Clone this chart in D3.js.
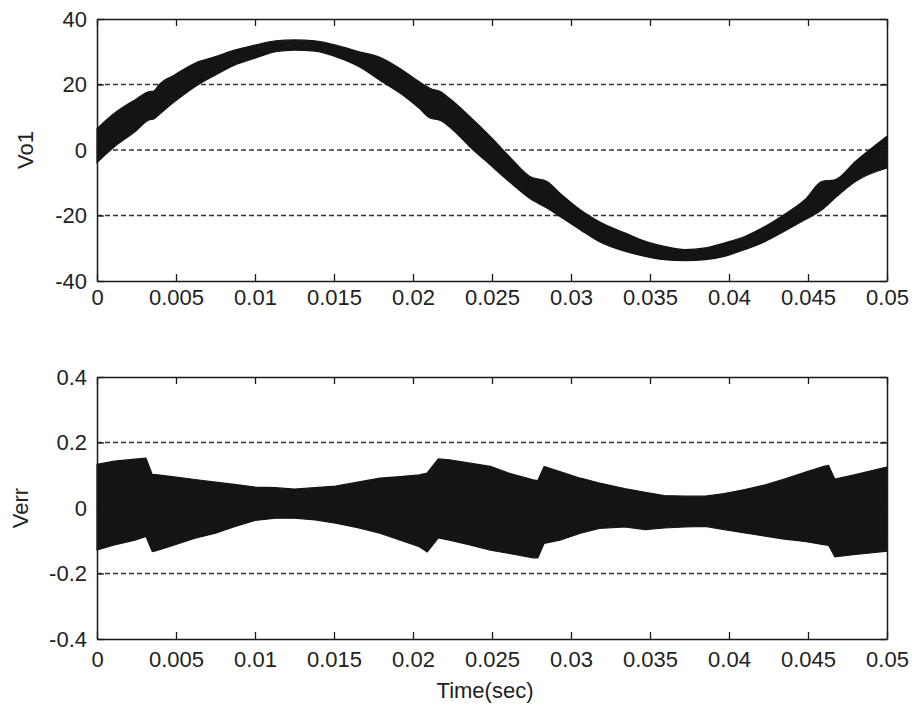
<!DOCTYPE html>
<html>
<head>
<meta charset="utf-8">
<script src="https://cdn.jsdelivr.net/npm/d3@7/dist/d3.min.js"></script>
<style>
  html, body { margin: 0; padding: 0; background: #ffffff; }
  svg { display: block; }
  text { font-family: "Liberation Sans", Arial, sans-serif; fill: #222; }
</style>
</head>
<body>
<script>
// ---------- data ----------
// Top panel: Vo1 switching band, upper and lower envelope
const vo1Time  = [0, 0.0011, 0.0024, 0.0033, 0.0036, 0.0039, 0.0049, 0.0062, 0.0075, 0.0087,
                  0.0100, 0.0113, 0.0125, 0.0138, 0.0151, 0.0166, 0.0179, 0.0192, 0.0204, 0.0211,
                  0.0217, 0.0223, 0.0236, 0.0249, 0.0261, 0.0274, 0.0285, 0.0293, 0.0306, 0.0318,
                  0.0334, 0.0347, 0.0359, 0.0372, 0.0385, 0.0397, 0.0410, 0.0423, 0.0435, 0.0448,
                  0.0459, 0.0467, 0.0480, 0.0500];
const vo1Upper = [6.5, 11.2, 15.3, 17.8, 18.0, 19.8, 22.9, 26.5, 28.5, 30.5,
                  32.0, 33.3, 33.6, 33.3, 32.0, 30.0, 28.3, 24.8, 20.8, 18.8,
                  17.9, 15.8, 10.2, 4.1, -2.0, -8.1, -9.7, -13.2, -18.3, -21.9,
                  -25.3, -27.9, -29.4, -30.4, -29.9, -28.4, -26.4, -23.3, -19.7, -15.2,
                  -9.6, -9.1, -3.5, 4.2];
const vo1Lower = [-3.8, 1.0, 5.6, 9.2, 9.5, 10.7, 14.7, 19.3, 22.9, 25.9,
                  28.0, 30.0, 30.5, 30.2, 28.5, 25.4, 21.3, 17.3, 12.7, 9.7,
                  9.1, 7.1, 1.0, -4.6, -9.7, -14.8, -17.8, -20.3, -24.4, -28.0,
                  -30.9, -32.5, -33.5, -33.8, -33.5, -32.5, -30.4, -27.9, -24.8, -21.3,
                  -18.2, -14.7, -9.6, -5.5];

// Bottom panel: Verr band, upper and lower envelope
const errTime  = [0, 0.0011, 0.0024, 0.0031, 0.0035, 0.0037, 0.0049, 0.0062, 0.0075, 0.0087,
                  0.0100, 0.0113, 0.0125, 0.0138, 0.0151, 0.0165, 0.0179, 0.0192, 0.0204, 0.0209,
                  0.0216, 0.0223, 0.0236, 0.0249, 0.0261, 0.0276, 0.0279, 0.0283, 0.0293, 0.0306,
                  0.0318, 0.0334, 0.0347, 0.0359, 0.0372, 0.0385, 0.0397, 0.0410, 0.0423, 0.0435,
                  0.0448, 0.0460, 0.0463, 0.0467, 0.0480, 0.0500];
const errUpper = [0.133, 0.143, 0.149, 0.152, 0.102, 0.102, 0.095, 0.087, 0.079, 0.072,
                  0.064, 0.062, 0.058, 0.062, 0.067, 0.079, 0.091, 0.096, 0.101, 0.107,
                  0.150, 0.147, 0.137, 0.127, 0.106, 0.086, 0.084, 0.127, 0.111, 0.091,
                  0.076, 0.059, 0.048, 0.038, 0.036, 0.036, 0.044, 0.056, 0.071, 0.088,
                  0.109, 0.127, 0.130, 0.088, 0.102, 0.125];
const errLower = [-0.128, -0.113, -0.098, -0.087, -0.133, -0.131, -0.113, -0.092, -0.077, -0.057,
                  -0.038, -0.031, -0.031, -0.036, -0.046, -0.060, -0.077, -0.098, -0.118, -0.134,
                  -0.091, -0.098, -0.113, -0.129, -0.139, -0.152, -0.152, -0.108, -0.098, -0.077,
                  -0.062, -0.058, -0.066, -0.061, -0.058, -0.056, -0.066, -0.076, -0.086, -0.095,
                  -0.102, -0.112, -0.114, -0.149, -0.142, -0.132];

// Tick values and labels
const xTicks      = [0, 0.005, 0.01, 0.015, 0.02, 0.025, 0.03, 0.035, 0.04, 0.045, 0.05];
const xTickLabels = ["0", "0.005", "0.01", "0.015", "0.02", "0.025", "0.03", "0.035", "0.04", "0.045", "0.05"];
const vo1Ticks      = [-40, -20, 0, 20, 40];
const vo1TickLabels = ["-40", "-20", "0", "20", "40"];
const vo1Grid       = [-20, 0, 20];
const errTicks      = [-0.4, -0.2, 0, 0.2, 0.4];
const errTickLabels = ["-0.4", "-0.2", "0", "0.2", "0.4"];
const errGrid       = [-0.2, 0, 0.2];
const xTitle = "Time(sec)";

// ---------- drawing ----------
const W = 912, H = 710;
const svg = d3.select("body").append("svg").attr("width", W).attr("height", H);

function panel(cfg) {
  const x = d3.scaleLinear().domain([0, 0.05]).range([cfg.left, cfg.right]);
  const y = d3.scaleLinear().domain(cfg.domain).range([cfg.bottom, cfg.top]);
  const g = svg.append("g");

  // horizontal dashed grid
  g.selectAll("line.grid").data(cfg.grid).join("line")
    .attr("class", "grid")
    .attr("x1", cfg.left).attr("x2", cfg.right)
    .attr("y1", d => y(d)).attr("y2", d => y(d))
    .attr("stroke", "#333").attr("stroke-width", 1.4)
    .attr("stroke-dasharray", "5,3");

  // band
  const rows = cfg.t.map((t, i) => ({ t, hi: cfg.hi[i], lo: cfg.lo[i] }));
  g.append("path").datum(rows)
    .attr("d", d3.area().curve(cfg.curve).x(d => x(d.t)).y0(d => y(d.lo)).y1(d => y(d.hi)))
    .attr("fill", "#141414").attr("stroke", "#141414").attr("stroke-width", 1.2);

  const fmt = (vals, labels) => (d => labels[vals.indexOf(d)]);

  // axes (ticks inward)
  const axB = g.append("g").attr("transform", `translate(0,${cfg.bottom})`)
    .call(d3.axisBottom(x).tickValues(xTicks).tickFormat(fmt(xTicks, xTickLabels))
      .tickSizeInner(-7).tickSizeOuter(0).tickPadding(cfg.xPad));
  const axT = g.append("g").attr("transform", `translate(0,${cfg.top})`)
    .call(d3.axisTop(x).tickValues(xTicks).tickFormat("")
      .tickSizeInner(-7).tickSizeOuter(0));
  const axL = g.append("g").attr("transform", `translate(${cfg.left},0)`)
    .call(d3.axisLeft(y).tickValues(cfg.ticks).tickFormat(fmt(cfg.ticks, cfg.labels))
      .tickSizeInner(-7).tickSizeOuter(0).tickPadding(10));
  const axR = g.append("g").attr("transform", `translate(${cfg.right},0)`)
    .call(d3.axisRight(y).tickValues(cfg.ticks).tickFormat("")
      .tickSizeInner(-7).tickSizeOuter(0));

  [axB, axT, axL, axR].forEach(a => {
    a.selectAll("path.domain").attr("stroke", "#1a1a1a").attr("stroke-width", 1.5);
    a.selectAll(".tick line").attr("stroke", "#1a1a1a").attr("stroke-width", 1.3);
    a.selectAll(".tick text").attr("font-size", 22).attr("fill", "#222")
      .style("font-family", '"Liberation Sans", Arial, sans-serif');
  });

  // y title
  g.append("text")
    .attr("transform", `translate(${cfg.yTitleX},${(cfg.top + cfg.bottom) / 2}) rotate(-90)`)
    .attr("text-anchor", "middle")
    .attr("font-size", 22)
    .text(cfg.yTitle);
  return { x, y };
}

panel({ left: 97, right: 887, top: 19, bottom: 281, domain: [-40, 40],
        t: vo1Time, hi: vo1Upper, lo: vo1Lower, curve: d3.curveMonotoneX,
        ticks: vo1Ticks, labels: vo1TickLabels, grid: vo1Grid,
        yTitle: "Vo1", yTitleX: 33, xPad: 8 });

panel({ left: 97, right: 887, top: 377, bottom: 639, domain: [-0.4, 0.4],
        t: errTime, hi: errUpper, lo: errLower, curve: d3.curveLinear,
        ticks: errTicks, labels: errTickLabels, grid: errGrid,
        yTitle: "Verr", yTitleX: 28, xPad: 12 });

svg.append("text")
  .attr("x", 485).attr("y", 698)
  .attr("text-anchor", "middle")
  .attr("font-size", 22)
  .text(xTitle);
</script>
</body>
</html>
